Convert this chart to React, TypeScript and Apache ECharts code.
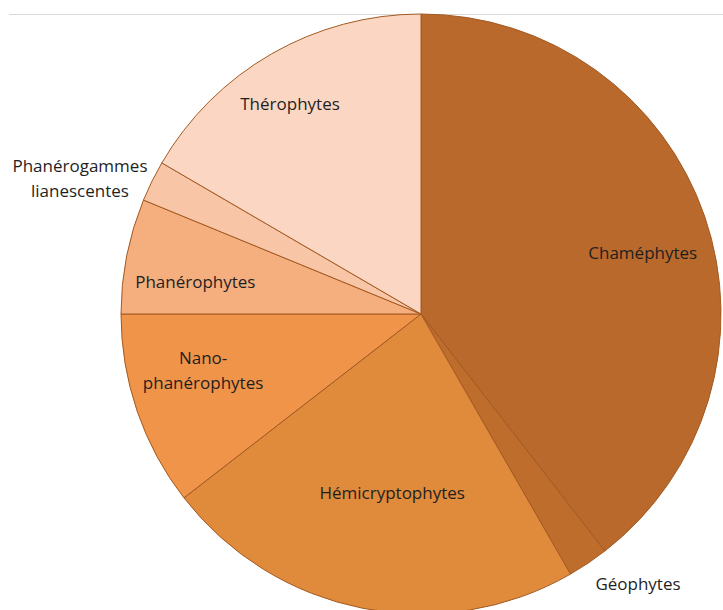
import React, { useEffect, useRef } from "react";
import * as echarts from "echarts";

const categories = [
  "Chaméphytes",
  "Géophytes",
  "Hémicryptophytes",
  "Nano-\nphanérophytes",
  "Phanérophytes",
  "Phanérogammes\nlianescentes",
  "Thérophytes",
];
const values = [39.5, 2.2, 22.8, 10.5, 6.2, 2.2, 16.6];
const colors = ["#B8692B", "#BE6D2D", "#E08A3C", "#F0944A", "#F5AE7E", "#F8C5A7", "#FBD6C3"];
// label placement: radius in px from centre, angle shift (deg) from slice middle
const labelRadius = [230, 346, 181, 225, 228, 367, 248];
const labelShift = [3.5, -5, -2, 4.5, -3, -4.6, -2];

const CX = 421;
const CY = 314;
const R = 300;

export default function App() {
  const ref = useRef<HTMLDivElement>(null);
  useEffect(() => {
    document.body.style.margin = "0";
    const chart = echarts.init(ref.current!, null, { renderer: "svg" });
    chart.setOption({
      animation: false,
      backgroundColor: "#ffffff",
      graphic: [
        {
          type: "line",
          shape: { x1: 9, y1: 14.5, x2: 723, y2: 14.5 },
          style: { stroke: "#D9D9D9", lineWidth: 1 },
          z: -1,
        },
      ],
      series: [
        {
          type: "pie",
          center: [CX, CY],
          radius: [0, R],
          startAngle: 90,
          clockwise: true,
          avoidLabelOverlap: false,
          itemStyle: { borderColor: "#A35A22", borderWidth: 1 },
          label: {
            show: true,
            position: "inside",
            color: "#1F1F1F",
            fontFamily: "Open Sans",
            fontSize: 17,
            lineHeight: 25,
            formatter: "{b}",
          },
          labelLine: { show: false },
          emphasis: { disabled: true },
          labelLayout: (p: any) => {
            const i = p.dataIndex;
            const r = p.labelRect;
            const lx = r.x + r.width / 2;
            const ly = r.y + r.height / 2;
            const mid = Math.atan2(lx - CX, -(ly - CY));
            const a = mid + (labelShift[i] * Math.PI) / 180;
            const nx = CX + labelRadius[i] * Math.sin(a);
            const ny = CY - labelRadius[i] * Math.cos(a);
            return { dx: nx - lx, dy: ny - ly };
          },
          data: categories.map((name, i) => ({
            name,
            value: values[i],
            itemStyle: { color: colors[i] },
          })),
        },
      ],
    });
    return () => chart.dispose();
  }, []);
  return <div ref={ref} style={{ width: 723, height: 610 }} />;
}
